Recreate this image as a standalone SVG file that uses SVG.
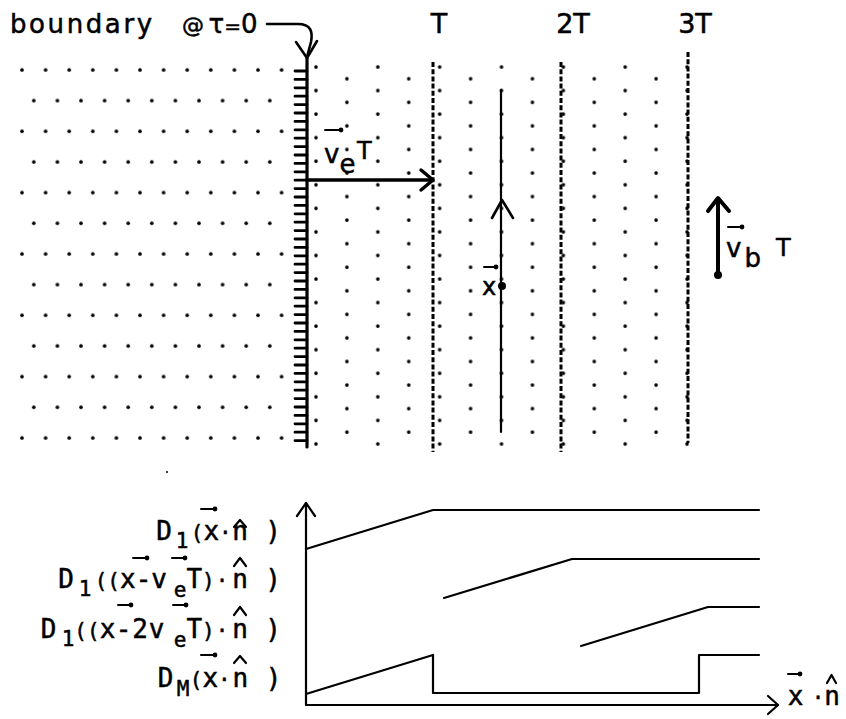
<svg xmlns="http://www.w3.org/2000/svg" width="846" height="719" viewBox="0 0 846 719">
<defs>
<style>
.t{font-family:"DejaVu Sans Mono","Liberation Mono",monospace;fill:#000;stroke:#000;stroke-width:0.5}
.u{font-family:"DejaVu Sans","Liberation Sans",sans-serif;fill:#000;stroke:#000;stroke-width:0.5}
.s{stroke:#000;fill:none;stroke-linecap:round;stroke-linejoin:round}
.dash{stroke:#000;fill:none;stroke-width:3;stroke-dasharray:5 2.2}
.vec{stroke:#000;stroke-width:2;fill:none;stroke-linecap:round}
.hat{stroke:#000;stroke-width:2.2;fill:none;stroke-linecap:round;stroke-linejoin:round}
</style>
<pattern id="dotsL" patternUnits="userSpaceOnUse" x="16.1" y="55" width="23.6" height="61.333">
<circle cx="5.9" cy="15" r="1.8"/>
<circle cx="17.7" cy="45.667" r="1.8"/>
</pattern>
<pattern id="dotsR" patternUnits="userSpaceOnUse" x="306" y="61" width="61.84" height="23.56">
<circle cx="10" cy="6" r="1.8"/>
<circle cx="40.92" cy="17.78" r="1.8"/>
</pattern>
</defs>
<rect width="846" height="719" fill="#fff"/>

<g id="medium-left">
<rect x="16" y="55" width="271" height="390" fill="url(#dotsL)"/>
<circle cx="167" cy="472" r="1"/>
</g>
<g id="medium-right">
<rect x="309" y="61" width="383" height="388" fill="url(#dotsR)"/>
</g>

<g id="front-T">
<line class="dash" x1="433" y1="62" x2="433" y2="452"/>
<text class="u" x="439" y="33" font-size="27" text-anchor="middle">T</text>
</g>
<g id="front-2T">
<line class="dash" x1="561" y1="62" x2="561" y2="452"/>
<text class="u" x="573" y="33" font-size="27" text-anchor="middle">2T</text>
</g>
<g id="front-3T">
<line class="dash" x1="688" y1="52" x2="688" y2="443"/>
<text class="u" x="695" y="33" font-size="27" text-anchor="middle">3T</text>
</g>

<g id="boundary">
<line class="s" x1="307" y1="58" x2="307" y2="447" stroke-width="3.2"/>
<path class="s" stroke-width="2.8" d="M295,71h12M295,79.4h12M295,87.8h12M295,96.2h12M295,104.6h12M295,113h12M295,121.4h12M295,129.8h12M295,138.2h12M295,146.6h12M295,155h12M295,163.4h12M295,171.8h12M295,180.2h12M295,188.6h12M295,197h12M295,205.4h12M295,213.8h12M295,222.2h12M295,230.6h12M295,239h12M295,247.4h12M295,255.8h12M295,264.2h12M295,272.6h12M295,281h12M295,289.4h12M295,297.8h12M295,306.2h12M295,314.6h12M295,323h12M295,331.4h12M295,339.8h12M295,348.2h12M295,356.6h12M295,365h12M295,373.4h12M295,381.8h12M295,390.2h12M295,398.6h12M295,407h12M295,415.4h12M295,423.8h12M295,432.2h12M295,440.6h12"/>
</g>

<g id="label-boundary">
<text class="u" x="10" y="33" font-size="26" letter-spacing="2.6">boundary</text>
<text class="u" x="182" y="33" font-size="26"><tspan font-size="22">@</tspan><tspan dx="4.5">τ</tspan><tspan font-size="20">=</tspan>0</text>
</g>

<g id="label-ve">
<text class="u" x="324" y="163" font-size="26">v<tspan dy="10">e</tspan><tspan dx="1.6" dy="-14" font-size="24">T</tspan></text>
<path class="vec" d="M325,130H340"/><circle cx="341" cy="130" r="2.4"/>
</g>

<g id="label-vb">
<text class="u" x="726" y="257" font-size="26">v<tspan dx="3" dy="10">b</tspan><tspan dx="15" dy="-11" font-size="24">T</tspan></text>
<path class="vec" d="M728,227H741"/><circle cx="742" cy="227" r="2.4"/>
</g>

<g id="point-x">
<circle cx="502" cy="286" r="4"/>
<text class="u" x="482" y="295" font-size="24">x</text>
<path class="vec" d="M484,267H495"/><circle cx="496" cy="267" r="2.4"/>
</g>

<g id="connectors">
<path class="s" stroke-width="2.6" d="M267,24H298C311,24 313,32 311,42L307,57"/>
<path class="s" stroke-width="2.6" d="M296,42L307,58L317,41"/>
<path class="s" stroke-width="3.5" d="M307,180H432"/>
<path class="s" stroke-width="3.5" d="M421,170L433,180L421,190"/>
<path class="s" stroke-width="2.2" d="M501,90V432"/>
<path class="s" stroke-width="2.6" d="M492,218L502,200L513,218"/>
<path class="s" stroke-width="4" d="M718,275V199"/>
<path class="s" stroke-width="4" d="M708,211L718,198L729,211"/>
<circle cx="718" cy="275" r="4"/>
</g>

<g id="graph">
<path class="s" stroke-width="2.2" d="M306,705V503"/>
<path class="s" stroke-width="2.2" d="M297,516L306,503L315,516"/>
<path class="s" stroke-width="2.2" d="M306,705H778"/>
<path class="s" stroke-width="2.2" d="M768,696L778,705L768,714"/>
<path id="curve-D1" class="s" stroke-width="2.2" d="M306,549L433,510H759"/>
<path id="curve-D1-shift1" class="s" stroke-width="2.2" d="M444,598L572,559H759"/>
<path id="curve-D1-shift2" class="s" stroke-width="2.2" d="M581,646L708,607H759"/>
<path id="curve-DM" class="s" stroke-width="2.2" d="M306,694L433,655V693H699V655H759"/>
</g>

<g id="label-axis">
<text class="t" x="787.7" y="705" font-size="26">x<tspan dx="8.36" font-size="21">·</tspan>n</text>
<path class="vec" d="M788,674H799"/><circle cx="800" cy="674" r="2.4"/>
<path class="hat" d="M827,683L831.5,675L836,683"/>
</g>

<g id="label-D1">
<text class="t" x="156.2" y="540" font-size="26">D<tspan dx="3.86" dy="8" font-size="21">1</tspan><tspan dx="2.36" dy="-8" font-size="21">(</tspan>x<tspan font-size="21">·</tspan><tspan dx="0.56">n</tspan><tspan dx="17.35">)</tspan></text>
<path class="vec" d="M201,509H214"/><circle cx="215" cy="509" r="2.4"/>
<path class="hat" d="M234,527L240,520L246,527"/>
</g>

<g id="label-D1-shift1">
<text class="t" x="58.2" y="588" font-size="26">D<tspan dx="4.86" dy="8" font-size="21">1</tspan><tspan dx="3.36" dy="-8" font-size="21">((</tspan>x-v<tspan dx="6.77" dy="9" font-size="21">e</tspan><tspan dy="-9">T</tspan><tspan font-size="21">)</tspan><tspan dx="1.07" font-size="21">·</tspan><tspan dx="3.85">n</tspan><tspan dx="17.35">)</tspan></text>
<path class="vec" d="M133,558H146"/><circle cx="147" cy="558" r="2.4"/>
<path class="vec" d="M172,558H184"/><circle cx="185" cy="558" r="2.4"/>
<path class="hat" d="M234,566L240,558L246,566"/>
</g>

<g id="label-D1-shift2">
<text class="t" x="40.7" y="638" font-size="26">D<tspan dx="5.36" dy="8" font-size="21">1</tspan><tspan dy="-8" font-size="21">((</tspan>x<tspan dx="0.42">-</tspan><tspan dx="0.85">2</tspan><tspan dx="0.85">v</tspan><tspan dx="9.36" dy="9" font-size="21">e</tspan><tspan dy="-9">T</tspan><tspan font-size="21">)</tspan><tspan dx="1.07" font-size="21">·</tspan><tspan dx="3.85">n</tspan><tspan dx="17.35">)</tspan></text>
<path class="vec" d="M118,605H130"/><circle cx="131" cy="605" r="2.4"/>
<path class="vec" d="M173,605H185"/><circle cx="186" cy="605" r="2.4"/>
<path class="hat" d="M234,615L240,607L246,615"/>
</g>

<g id="label-DM">
<text class="t" x="157.7" y="687" font-size="26">D<tspan dx="3.36" dy="9" font-size="21">M</tspan><tspan dx="0.36" dy="-9" font-size="21">(</tspan>x<tspan font-size="21">·</tspan><tspan dx="1.92">n</tspan><tspan dx="17.35">)</tspan></text>
<path class="vec" d="M201,655H214"/><circle cx="215" cy="655" r="2.4"/>
<path class="hat" d="M234,663L240,656L246,663"/>
</g>
</svg>
